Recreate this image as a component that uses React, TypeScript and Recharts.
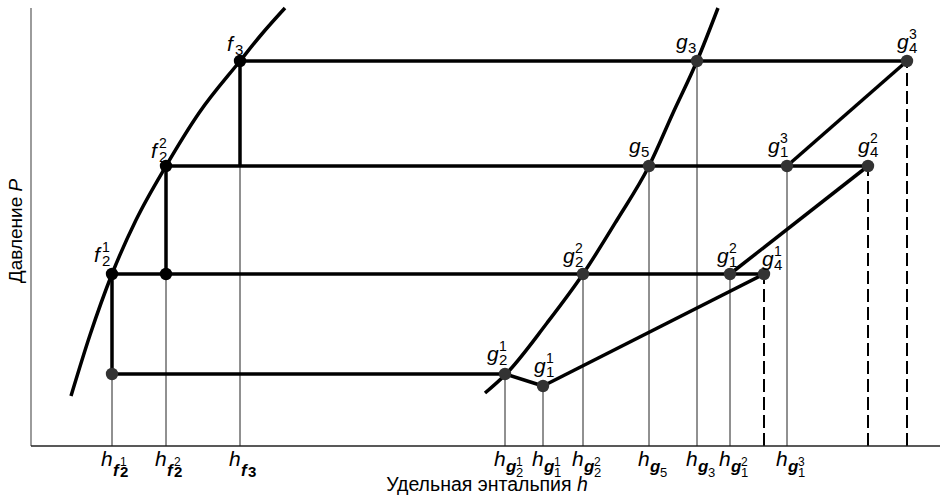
import React from "react";
import { ComposedChart, Line, Scatter, XAxis, YAxis } from "recharts";

const FONT = "'Liberation Sans', Arial, sans-serif";

// enthalpy h (x) and pressure P (y) in plot units
const liquidCurve = [
  { h: 40, P: 50 }, { h: 59, P: 111 }, { h: 81, P: 172 }, { h: 105, P: 226 },
  { h: 135, P: 280 }, { h: 168, P: 333 }, { h: 209, P: 385 }, { h: 230, P: 411 }, { h: 254, P: 438 },
];
const vapourCurve = [
  { h: 454, P: 53 }, { h: 475, P: 72 }, { h: 516, P: 123 }, { h: 552, P: 172 },
  { h: 586, P: 226 }, { h: 618, P: 280 }, { h: 642, P: 333 }, { h: 666, P: 385 }, { h: 687, P: 438 },
];
const pressureAxis = [{ h: 0, P: 0 }, { h: 0, P: 438 }];

const points = [
  { id: "f3", h: 209, P: 385 },
  { id: "f3low", h: 209, P: 280 },
  { id: "f22", h: 135, P: 280 },
  { id: "f22low", h: 135, P: 172 },
  { id: "f21", h: 81, P: 172 },
  { id: "f21low", h: 81, P: 72 },
  { id: "g3", h: 666, P: 385 },
  { id: "g43", h: 876, P: 385 },
  { id: "g5", h: 618, P: 280 },
  { id: "g13", h: 756, P: 280 },
  { id: "g42", h: 837, P: 280 },
  { id: "g22", h: 552, P: 172 },
  { id: "g12", h: 699, P: 172 },
  { id: "g41", h: 733, P: 172 },
  { id: "g21", h: 474, P: 72 },
  { id: "g11", h: 512, P: 60 },
];

const solidDots = ["f3", "f22", "f21", "f22low"];
const shadedDots = ["f21low", "g3", "g43", "g5", "g13", "g42", "g22", "g12", "g41", "g21", "g11"];

// [letter, subscript, superscript]
const pointNames: Record<string, string[]> = {
  f3: ["f", "3", ""], f22: ["f", "2", "2"], f21: ["f", "2", "1"],
  g3: ["g", "3", ""], g43: ["g", "4", "3"], g5: ["g", "5", ""], g13: ["g", "1", "3"],
  g42: ["g", "4", "2"], g22: ["g", "2", "2"], g12: ["g", "1", "2"], g41: ["g", "4", "1"],
  g21: ["g", "2", "1"], g11: ["g", "1", "1"],
};

const thickSegments = [
  ["f3", "g43"], ["f22", "g42"], ["f21", "g41"], ["f21low", "g21"],
  ["g21", "g11"], ["g11", "g41"], ["g12", "g42"], ["g13", "g43"],
  ["f3", "f3low"], ["f22", "f22low"], ["f21", "f21low"],
];
const thinDrops = ["f21low", "f22low", "f3low", "g21", "g11", "g22", "g5", "g3", "g12", "g13"];
const dashedDrops = ["g41", "g42", "g43"];

const tickNames: Record<string, string[]> = {
  f21low: ["f", "2", "1"], f22low: ["f", "2", "2"], f3low: ["f", "3", ""],
  g21: ["g", "2", "1"], g11: ["g", "1", "1"], g22: ["g", "2", "2"], g5: ["g", "5", ""],
  g3: ["g", "3", ""], g12: ["g", "1", "2"], g13: ["g", "1", "3"],
};

// label placement relative to its dot: [dx of letter, dy of baseline]
const labelOffsets: Record<string, number[]> = {
  f3: [-13, -10], f22: [-15, -8], f21: [-18, -12],
  g3: [-21, -12], g43: [-10, -12], g5: [-20, -13], g13: [-19, -13], g42: [-10, -13],
  g22: [-20, -11], g12: [-13, -11], g41: [-2, -8], g21: [-18, -13], g11: [-9, -13],
};

const byId = (id: string) => points.find(p => p.id === id)!;

function PointName({ x, y, name }: { x: number; y: number; name: string[] }) {
  const [letter, sub, sup] = name;
  const w = letter === "f" ? 8 : 12;
  return (
    <g fontFamily={FONT} fill="#000">
      <text x={x} y={y} fontSize={21} fontStyle="italic">{letter}</text>
      {sup && <text x={x + w} y={y - 10} fontSize={14}>{sup}</text>}
      {sub && <text x={x + w} y={y + 4} fontSize={15}>{sub}</text>}
    </g>
  );
}

const dotShape = (fill: string) => (props: any) => {
  const { cx, cy, payload } = props;
  const name = pointNames[payload.id];
  const off = labelOffsets[payload.id];
  return (
    <g>
      <circle cx={cx} cy={cy} r={6.2} fill={fill} />
      {name && off && <PointName x={cx + off[0]} y={cy + off[1]} name={name} />}
    </g>
  );
};

const HTick = (props: any) => {
  const { x, payload } = props;
  const id = thinDrops.find(d => byId(d).h === payload.value);
  if (!id) return null;
  const [letter, sub, sup] = tickNames[id];
  const x0 = x - 11;
  const isF = letter === "f";
  const lw = isF ? 7 : 10;
  return (
    <g fontFamily={FONT} fill="#000">
      <text x={x0} y={466} fontSize={21} fontStyle="italic">h</text>
      <text x={x0 + 12} y={isF ? 476 : 472} fontSize={17} fontStyle="italic" fontWeight="bold">{letter}</text>
      {sup && <text x={x0 + 12 + lw} y={466} fontSize={12}>{sup}</text>}
      {sub && (
        <text x={x0 + 12 + lw} y={477} fontSize={isF ? 15 : 13} fontWeight={isF ? "bold" : "normal"}>{sub}</text>
      )}
    </g>
  );
};

const AxisTitles = () => (
  <g fontFamily={FONT} fill="#000">
    <text x={487} y={491} textAnchor="middle" fontSize={19.5}>
      Удельная энтальпия <tspan fontStyle="italic">h</tspan>
    </text>
    <text transform="translate(22,231) rotate(-90)" textAnchor="middle" fontSize={19}>
      Давление <tspan fontStyle="italic">P</tspan>
    </text>
  </g>
);

export default function App() {
  const tickValues = thinDrops.map(id => byId(id).h);
  return (
    <div style={{ position: "absolute", left: 0, top: 0, width: 940, height: 500, background: "#fff" }}>
      <ComposedChart width={940} height={500} margin={{ top: 8, right: 0, left: 31, bottom: 0 }}>
        <XAxis
          type="number"
          dataKey="h"
          domain={[0, 909]}
          ticks={tickValues}
          interval={0}
          height={54}
          tickLine={false}
          axisLine={{ stroke: "#222", strokeWidth: 1.5 }}
          tick={<HTick />}
          label={{ content: () => <AxisTitles /> }}
        />
        <YAxis type="number" dataKey="P" domain={[0, 438]} hide />
        <Line data={pressureAxis} dataKey="P" stroke="#666" strokeWidth={1.3}
          dot={false} activeDot={false} isAnimationActive={false} />
        {thinDrops.map(id => (
          <Line key={"thin-" + id} data={[{ h: byId(id).h, P: 0 }, byId(id)]} dataKey="P" stroke="#222"
            strokeWidth={1} dot={false} activeDot={false} isAnimationActive={false} />
        ))}
        {dashedDrops.map(id => (
          <Line key={"dash-" + id} data={[{ h: byId(id).h, P: 0 }, byId(id)]} dataKey="P" stroke="#000"
            strokeWidth={2} strokeDasharray="13 5" dot={false} activeDot={false} isAnimationActive={false} />
        ))}
        {thickSegments.map(([a, b]) => (
          <Line key={"seg-" + a + b} data={[byId(a), byId(b)]} dataKey="P" stroke="#000"
            strokeWidth={3.5} dot={false} activeDot={false} isAnimationActive={false} />
        ))}
        <Line data={liquidCurve} dataKey="P" type="monotone" stroke="#000" strokeWidth={3.5}
          dot={false} activeDot={false} isAnimationActive={false} />
        <Line data={vapourCurve} dataKey="P" type="monotone" stroke="#000" strokeWidth={3.5}
          dot={false} activeDot={false} isAnimationActive={false} />
        <Scatter data={shadedDots.map(byId)} shape={dotShape("#333")} isAnimationActive={false} />
        <Scatter data={solidDots.map(byId)} shape={dotShape("#000")} isAnimationActive={false} />
      </ComposedChart>
    </div>
  );
}
